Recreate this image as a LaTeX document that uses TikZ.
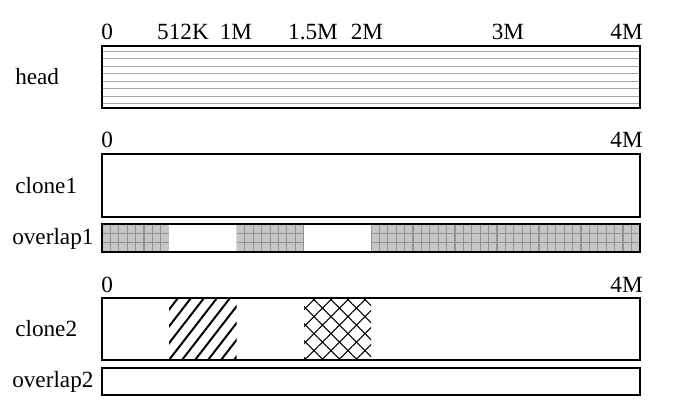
\documentclass[tikz,border=0pt]{standalone}
\usepackage{fontspec}
\setmainfont{Liberation Serif}
\usetikzlibrary{patterns.meta,positioning}

\begin{document}
\begin{tikzpicture}[
   x=0.025cm,y=-0.025cm,
   txt/.style={font=\fontsize{16.5}{19}\selectfont,inner sep=0pt},
   tickl/.style={txt,anchor=base},
   rowl/.style={txt,anchor=west},
   bar/.style={draw,line width=0.9pt},
   grey/.style={fill=gray!45},
   diam/.style={pattern={Hatch[angle=45,distance=0.3cm,line width=0.8pt]}}]
  \useasboundingbox (0,0) rectangle (679,410);
  % head
  \foreach \k in {0,...,7}
    \draw[gray!70,line width=0.5pt] (102,{50.9+7.5*\k}) -- (640,{50.9+7.5*\k});
  \draw[bar] (102,46) rectangle (640,108);
  \node[txt,anchor=base west] (h0) at (101,39) {0};
  \node[tickl] (h512) at (183,39) {512K};
  \node[tickl] (h1) at (236,39) {1M};
  \node[tickl] (h15) at (313,39) {1.5M};
  \node[tickl] (h2) at (367,39) {2M};
  \node[tickl] (h3) at (508,39) {3M};
  \node[txt,anchor=base east] (h4) at (643,39) {4M};
  \node[rowl] (head) at (15,77) {head};
  % clone1 / overlap1
  \draw[bar] (102,154) rectangle (640,217);
  \node[txt,anchor=base west] (c10) at (101,147) {0};
  \node[txt,anchor=base east] (c14) at (643,147) {4M};
  \node[rowl] (clone1) at (15,186) {clone1};
  \foreach \a/\b in {102/169,236.5/304,371/640} {
    \fill[grey] (\a,224) rectangle (\b,252);
    \begin{scope}
      \clip (\a,224) rectangle (\b,252);
      \draw[gray!85,line width=0.8pt,xstep=8.4*0.025cm,ystep=9.3*0.025cm,shift={(\a,224)}] (0,0) grid (\b-\a,28);
    \end{scope}
  }
  \draw[bar] (102,224) rectangle (640,252);
  \node[rowl] (overlap1) at (12,239) {overlap1};
  % clone2 / overlap2
  \begin{scope}
    \clip (169,298) rectangle (236.5,360);
    \foreach \i in {0,...,9}
      \draw[line width=1.4pt] ({130+\i*13},360) -- ({178+\i*13},298);
  \end{scope}
  \path[diam] (304,298) rectangle (371,360);
  \draw[bar] (102,298) rectangle (640,360);
  \node[txt,anchor=base west] (c20) at (101,292) {0};
  \node[txt,anchor=base east] (c24) at (643,292) {4M};
  \node[rowl] (clone2) at (15,329) {clone2};
  \draw[bar] (102,368) rectangle (640,395);
  \node[rowl] (overlap2) at (12,382) {overlap2};
\end{tikzpicture}
\end{document}
